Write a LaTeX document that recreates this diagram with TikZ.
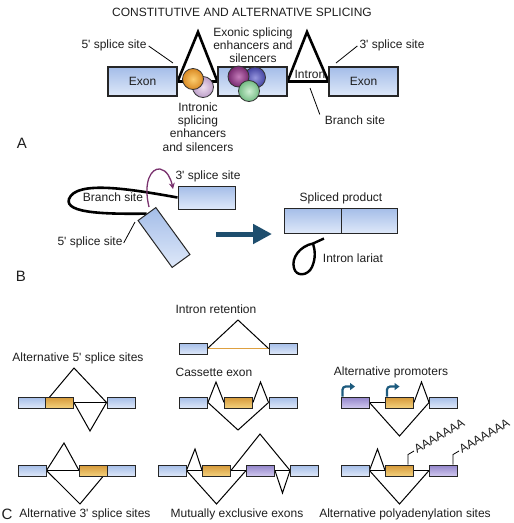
\documentclass[tikz,border=0pt]{standalone}
\usepackage{fontspec}
\setmainfont[Ligatures=NoCommon]{Liberation Sans}
\usetikzlibrary{arrows.meta}
\pgfdeclarelayer{bg}
\pgfsetlayers{bg,main}
\definecolor{bTop}{RGB}{164,189,232}
\definecolor{bBot}{RGB}{222,232,249}
\definecolor{oTop}{RGB}{212,152,56}
\definecolor{oBot}{RGB}{244,208,124}
\definecolor{pTop}{RGB}{146,132,202}
\definecolor{pBot}{RGB}{208,200,238}
\definecolor{arrowblue}{RGB}{30,78,110}
\definecolor{promblue}{RGB}{29,91,126}
\definecolor{lilac}{RGB}{122,50,110}
\definecolor{txt}{RGB}{30,30,30}
\definecolor{retention}{RGB}{222,160,64}
\newcommand{\apos}{\textquotesingle}
\begin{document}
\begin{tikzpicture}[x=1pt,y=-1pt,
  every node/.style={font=\fontsize{12}{13}\selectfont, text=txt, inner sep=0pt},
  lbl/.style={align=center},
  exonA/.style={draw=black!85, line width=1.1pt, top color=bTop, bottom color=bBot, minimum width=69pt, minimum height=29pt},
  boxB/.style={draw=black!85, line width=1pt, top color=bTop, bottom color=bBot, minimum width=57pt, minimum height=23pt},
  bx/.style={draw=black!85, line width=0.9pt, minimum width=28pt, minimum height=11pt},
  exBlue/.style={bx, top color=bTop, bottom color=bBot},
  exOrange/.style={bx, top color=oTop, bottom color=oBot},
  exPurple/.style={bx, top color=pTop, bottom color=pBot},
  thickline/.style={line width=2.6pt, black, line join=miter},
  ptr/.style={line width=0.8pt, black},
  cl/.style={line width=1pt, black, line join=miter},
  ball/.style={draw=black!80, line width=0.8pt, circle, minimum size=21pt},
  panel/.style={font=\fontsize{15}{16}\selectfont},
  promo/.style={line width=2.2pt, promblue, rounded corners=3pt, -{Triangle[length=5pt,width=7pt]}},
]
\useasboundingbox (0,0) rectangle (514,523);

% title
\node (title) at (242,12) {CONSTITUTIVE AND ALTERNATIVE SPLICING};

% ---------- Panel A ----------
\node[exonA] (A1) at (142.5,81.5) {Exon};
\node[exonA] (A2) at (252.5,81.5) {};
\node[exonA] (A3) at (363.5,81.5) {Exon};
\begin{pgfonlayer}{bg}
\draw[thickline] (A1.east) -- (A2.west);
\draw[thickline] (A2.east) -- (A3.west);
\draw[thickline] (A1.east) -- (198,32) -- (A2.west);
\draw[thickline] (A2.east) -- (307,32) -- (A3.west);
\end{pgfonlayer}
\node (intronA) at (310,74) {Intron};
\node[ball, inner color={rgb,255:red,238;green,222;blue,240}, outer color={rgb,255:red,188;green,158;blue,200}] (cLav) at (203,87) {};
\node[ball, inner color={rgb,255:red,252;green,206;blue,112}, outer color={rgb,255:red,218;green,138;blue,36}] (cOr) at (193,79) {};
\node[ball, inner color={rgb,255:red,150;green,150;blue,222}, outer color={rgb,255:red,66;green,66;blue,160}] (cBl) at (255,77.5) {};
\node[ball, inner color={rgb,255:red,196;green,124;blue,186}, outer color={rgb,255:red,118;green,40;blue,110}] (cPu) at (238.5,76.5) {};
\node[ball, inner color={rgb,255:red,206;green,238;blue,210}, outer color={rgb,255:red,116;green,188;blue,132}] (cGr) at (249,91) {};

\node (l5A) at (114,45) {5\apos{} splice site};
\coordinate (p5A) at (173,63);
\draw[ptr] (l5A.east) ++(2,1) -- (p5A);
\node (l3A) at (392,45) {3\apos{} splice site};
\coordinate (p3A) at (336,63);
\draw[ptr] (l3A.west) ++(-2,1) -- (p3A);
\node[lbl] (exonic) at (253,45) {Exonic splicing\\enhancers and\\silencers};
\node[lbl, font=\fontsize{12}{13.3}\selectfont] (intronic) at (198,127) {Intronic\\splicing\\enhancers\\and silencers};
\node (branchA) at (355,120) {Branch site};
\coordinate (pbA) at (310,88);
\draw[ptr] (branchA.north west) ++(-5,-1) -- (pbA);
\node[panel] (pA) at (22,143) {A};

% ---------- Panel B ----------
\node[boxB] (B3) at (206.5,197.5) {};
\node (l3B) at (208,176) {3\apos{} splice site};
\node[boxB, minimum width=58pt, minimum height=22pt, rotate=-54] (B5) at (164,237.5) {};
\begin{pgfonlayer}{bg}
\draw[thickline] (B3.west) .. controls (130,189) and (76,180) .. (69,199)
   .. controls (64,214) and (110,214) .. (B5.west);
\end{pgfonlayer}
\node (branchB) at (113,197) {Branch site};
\coordinate (purS) at (149,207);
\coordinate (purE) at (173,189);
\draw[lilac, line width=1.3pt, -{Stealth[length=6pt,width=6pt]}] (purS) .. controls (143,182) and (151,168) .. (160,169) .. controls (167,170) and (171,179) .. (purE);
\node (l5B) at (90,242) {5\apos{} splice site};
\coordinate (p5B) at (135,222);
\draw[ptr] (l5B.east) ++(1,1) -- (p5B);

\coordinate (arrS) at (216,234);
\coordinate (arrE) at (272,234);
\draw[arrowblue, line width=5pt, -{Triangle[length=19pt,width=19pt]}] (arrS) -- (arrE);

\node[boxB, minimum width=57pt, minimum height=25pt] (SP1) at (312.5,220.5) {};
\node[boxB, minimum width=56pt, minimum height=25pt] (SP2) at (369,220.5) {};
\node (spl) at (341,198) {Spliced product};
\coordinate (lar) at (324,238.5);
\draw[line width=2.4pt, black] (lar) -- (313,243.5) .. controls (300,246) and (291,258) .. (294,268)
   .. controls (296,277) and (308,276) .. (312,267) .. controls (316,258) and (315,250) .. (313,243.5);
\node (larl) at (353,258) {Intron lariat};
\node[panel] (pB) at (21,276) {B};

% ---------- Panel C ----------
% intron retention
\node (tIR) at (216,309) {Intron retention};
\node[exBlue] (r1) at (193,348.5) {};
\node[exBlue] (r2) at (283,348.5) {};
\begin{pgfonlayer}{bg}
\draw[retention, line width=1.2pt] (r1.east) -- (r2.west);
\draw[cl] (r1.east) -- (238,320) -- (r2.west);
\end{pgfonlayer}

% alternative 5'
\node (t5) at (78,358) {Alternative 5\apos{} splice sites};
\node[exBlue] (a1) at (32,402.5) {};
\node[exOrange] (a2) at (59.5,402.5) {};
\node[exBlue] (a3) at (121,402.5) {};
\begin{pgfonlayer}{bg}
\draw[cl] (a2.west) -- (74,368) -- (a3.west);
\draw[cl] (a2.east) -- (a3.west);
\draw[cl] (a2.east) -- (90,431) -- (a3.west);
\end{pgfonlayer}

% cassette exon
\node (tCE) at (214,372) {Cassette exon};
\node[exBlue] (k1) at (193.5,402.5) {};
\node[exOrange] (k2) at (238.5,402.5) {};
\node[exBlue] (k3) at (283,402.5) {};
\begin{pgfonlayer}{bg}
\draw[cl] (k1.east) -- (216,382) -- (k2.west);
\draw[cl] (k2.east) -- (260.5,382) -- (k3.west);
\draw[cl] (k1.east) -- (238,430) -- (k3.west);
\end{pgfonlayer}

% alternative promoters
\node (tAP) at (391,372) {Alternative promoters};
\node[exPurple] (m1) at (355,402.5) {};
\node[exOrange] (m2) at (399.5,402.5) {};
\node[exBlue] (m3) at (443.5,402.5) {};
\begin{pgfonlayer}{bg}
\draw[cl] (m1.east) -- (m2.west);
\draw[cl] (m2.east) -- (421.5,382) -- (m3.west);
\draw[cl] (m1.east) -- (399.5,436) -- (m3.west);
\end{pgfonlayer}
\draw[promo] ([xshift=2pt]m1.north west) -- ++(0,-10) -- ++(12.5,0);
\draw[promo] ([xshift=2pt]m2.north west) -- ++(0,-10) -- ++(12.5,0);

% alternative 3'
\node (t3) at (85,514) {Alternative 3\apos{} splice sites};
\node[exBlue] (b1) at (32,470.5) {};
\node[exOrange] (b2) at (93.5,470.5) {};
\node[exBlue] (b3) at (121,470.5) {};
\begin{pgfonlayer}{bg}
\draw[cl] (b1.east) -- (64,443) -- (b2.west);
\draw[cl] (b1.east) -- (b2.west);
\draw[cl] (b1.east) -- (80,504) -- (b2.east);
\end{pgfonlayer}

% mutually exclusive exons
\node (tME) at (237,514) {Mutually exclusive exons};
\node[exBlue] (e1) at (172,470.5) {};
\node[exOrange] (e2) at (216.5,470.5) {};
\node[exPurple] (e3) at (260.5,470.5) {};
\node[exBlue] (e4) at (304.5,470.5) {};
\begin{pgfonlayer}{bg}
\draw[cl] (e1.east) -- (e2.west);
\draw[cl] (e2.east) -- (e3.west);
\draw[cl] (e3.east) -- (e4.west);
\draw[cl] (e1.east) -- (195,449) -- (e2.west);
\draw[cl] (e2.east) -- (260,434) -- (e4.west);
\draw[cl] (e1.east) -- (216.5,504) -- (e3.west);
\draw[cl] (e3.east) -- (282.5,493) -- (e4.west);
\end{pgfonlayer}

% alternative polyadenylation
\node (tPA) at (405,514) {Alternative polyadenylation sites};
\node[exBlue] (q1) at (355,470.5) {};
\node[exOrange] (q2) at (399.5,470.5) {};
\node[exPurple] (q3) at (443.5,470.5) {};
\begin{pgfonlayer}{bg}
\draw[cl] (q1.east) -- (q2.west);
\draw[cl] (q2.east) -- (q3.west);
\draw[cl] (q1.east) -- (377.5,449) -- (q2.west);
\draw[cl] (q1.east) -- (399.5,504) -- (q3.west);
\end{pgfonlayer}
\node[rotate=30, anchor=west, inner sep=1pt] (pa1) at (414,451) {AAAAAAA};
\node[rotate=30, anchor=west, inner sep=1pt] (pa2) at (459,451) {AAAAAAA};
\draw[ptr] ([xshift=8.5pt]q2.north) -- ++(0,-10) -- (pa1.west);
\draw[ptr] ([xshift=9.5pt]q3.north) -- ++(0,-10) -- (pa2.west);

\node[panel] (pC) at (7,514) {C};
\end{tikzpicture}
\end{document}
